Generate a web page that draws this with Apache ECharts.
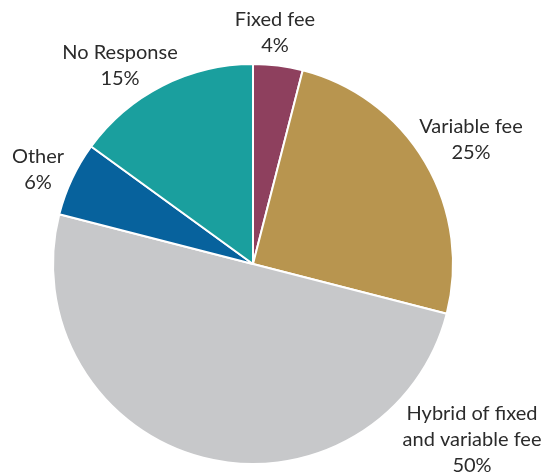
<!DOCTYPE html>
<html>
<head>
<meta charset="utf-8">
<script src="https://cdn.jsdelivr.net/npm/echarts@6/dist/echarts.min.js"></script>
<style>
  html, body { margin: 0; padding: 0; background: #fff; }
  #chart { width: 551px; height: 472px; }
</style>
</head>
<body>
<div id="chart"></div>
<script>
// Fee structure shares, clockwise from 12 o'clock
const categories = ['Fixed fee', 'Variable fee', 'Hybrid of fixed\nand variable fee', 'Other', 'No Response'];
const shares = [4, 25, 50, 6, 15];
const colors = ['#8E405E', '#B8954F', '#C7C8CA', '#07629D', '#1A9F9E'];

// Label anchor points (centre of each text block)
const labelAnchors = [[275, 33], [471, 140], [472, 440], [38, 170], [120, 66]];

const chart = echarts.init(document.getElementById('chart'), null, { renderer: 'canvas' });

chart.setOption({
  animation: false,
  series: [{
    type: 'pie',
    center: [253, 264],
    radius: [0, 200],
    startAngle: 90,
    clockwise: true,
    data: categories.map((name, i) => ({
      name: name,
      value: shares[i],
      itemStyle: { color: colors[i] }
    })),
    itemStyle: { borderColor: '#ffffff', borderWidth: 2 },
    label: {
      show: true,
      position: 'outside',
      formatter: p => p.name + '\n' + p.value + '%',
      fontFamily: 'Lato',
      fontSize: 20,
      lineHeight: 26,
      color: '#2b2b2b',
      align: 'center',
      overflow: 'none',
      width: 200
    },
    labelLine: { show: false },
    labelLayout: p => ({
      x: labelAnchors[p.dataIndex][0],
      y: labelAnchors[p.dataIndex][1],
      align: 'center',
      verticalAlign: 'middle'
    }),
    emphasis: { disabled: true }
  }]
});
</script>
</body>
</html>
